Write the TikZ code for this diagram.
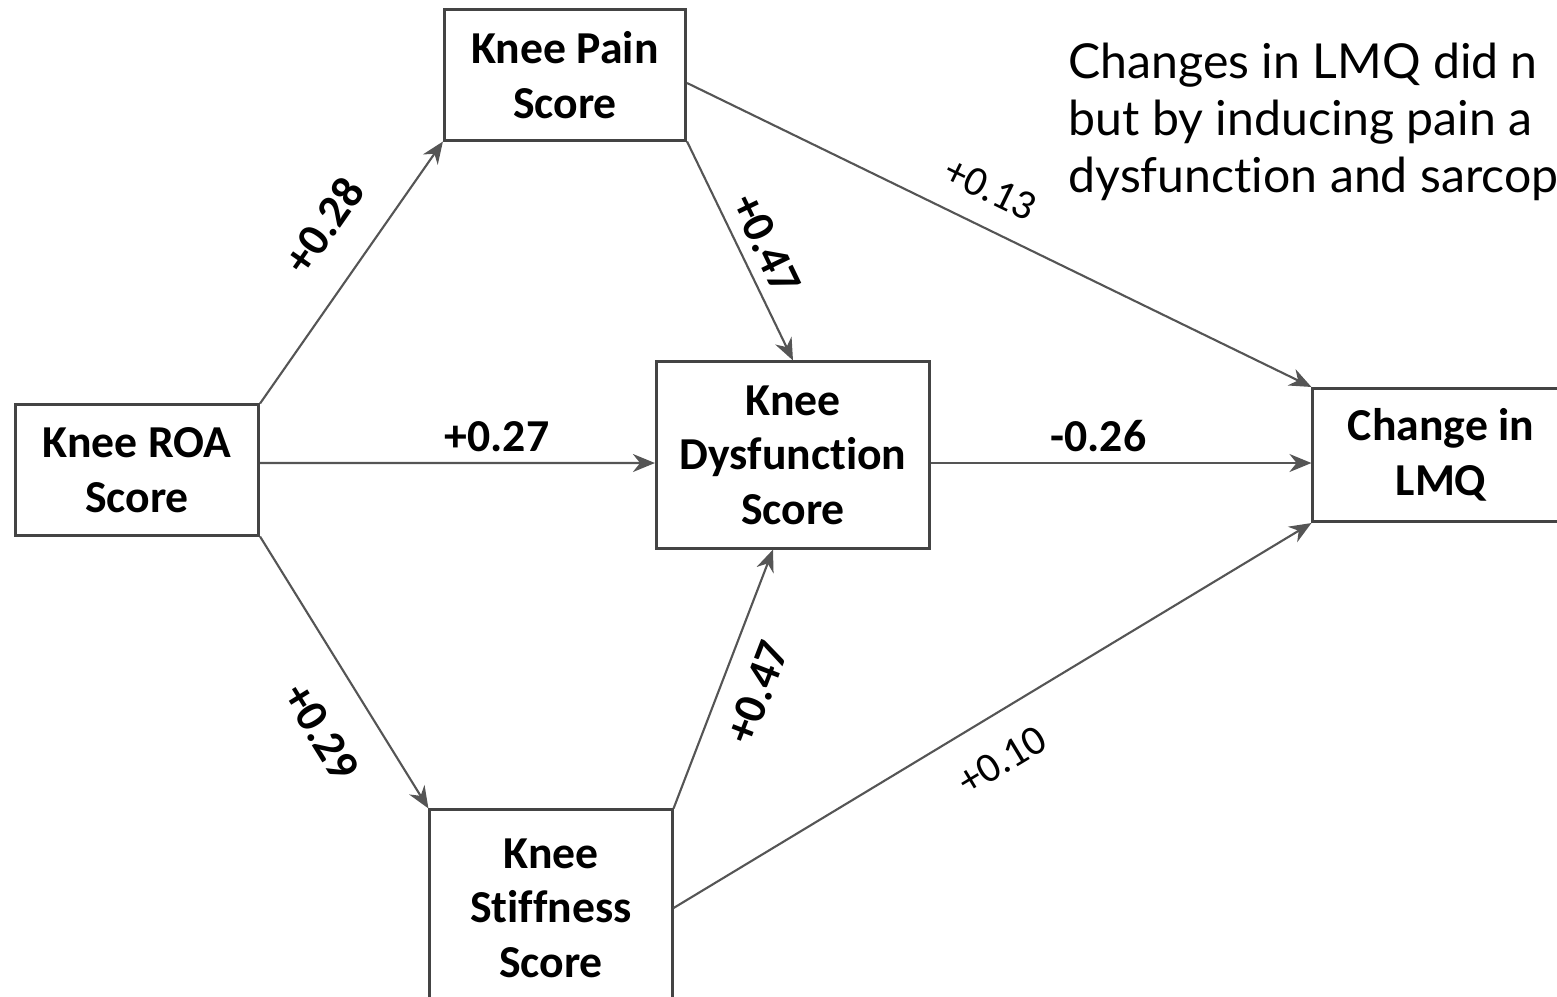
\documentclass[tikz,border=0pt]{standalone}
\usepackage{fontspec}
\setmainfont{Carlito}[Ligatures={NoCommon}]
\newfontfamily\notefont{Lato}[Ligatures={NoCommon}]
\usepackage{xcolor}
\usetikzlibrary{arrows.meta}

\definecolor{edgegray}{HTML}{555555}
\definecolor{boxgray}{HTML}{444444}

\begin{document}
\begin{tikzpicture}[
  x=0.01cm, y=-0.01cm,
  box/.style={draw=boxgray, line width=0.85pt, fill=white, align=center,
              font=\bfseries\fontsize{13}{15.5}\selectfont, inner sep=2pt},
  arrow/.style={-{Stealth[length=2.2mm, width=1.8mm]}, draw=edgegray, line width=0.6pt},
  wlabel/.style={font=\bfseries\fontsize{13}{15}\selectfont, sloped, inner sep=3pt},
  thin label/.style={font=\fontsize{12}{14}\selectfont, sloped, inner sep=3pt}
]
\useasboundingbox (0,0) rectangle (1557,996);
\clip (0,0) rectangle (1557,996);

% boxes
\node[box, minimum width=2.43cm, minimum height=1.30cm] (roa) at (137,470) {Knee ROA\\Score};
\node[box, minimum width=2.41cm, minimum height=1.30cm] (pain) at (565,75) {Knee Pain\\Score};
\node[box, minimum width=2.73cm, minimum height=1.86cm] (dysf) at (793,455) {Knee\\Dysfunction\\Score};
\node[box, minimum width=2.42cm, minimum height=1.96cm] (stiff) at (551,908) {Knee\\Stiffness\\Score};
\node[box, minimum width=2.56cm, minimum height=1.33cm] (lmq) at (1441,455) {Change in\\LMQ};

% note text
\node[anchor=north west, align=left, inner sep=0pt,
      font=\notefont\fontsize{13.7}{16.2}\selectfont] (note) at (1068,42)
  {Changes in LMQ did n\\but by inducing pain a\\dysfunction and sarcop};

% paths
\draw[arrow] (roa.north east) -- node[wlabel, above=2.2mm, pos=0.57] {+0.28} (pain.south west);
\draw[arrow] ([yshift=0.07cm]roa.east) -- node[wlabel, above, pos=0.6] {+0.27} ([yshift=-0.08cm]dysf.west);
\draw[arrow] (roa.south east) -- node[wlabel, below=2.4mm, pos=0.62] {+0.29} (stiff.north west);
\draw[arrow] (pain.south east) -- node[wlabel, above, pos=0.52] {+0.47} (dysf.north);
\draw[arrow] (stiff.north east) -- node[wlabel, below=1mm, pos=0.5] {+0.47} ([xshift=-2mm]dysf.south);
\draw[arrow] ([yshift=-0.8mm]pain.east) -- node[thin label, above=1.2mm, pos=0.46] {+0.13} (lmq.north west);
\draw[arrow] ([yshift=-0.08cm]dysf.east) -- node[wlabel, above, pos=0.44] {-0.26} ([yshift=-0.08cm]lmq.west);
\draw[arrow] (stiff.east) -- node[thin label, below=1.8mm, pos=0.48] {+0.10} (lmq.south west);
\end{tikzpicture}
\end{document}
